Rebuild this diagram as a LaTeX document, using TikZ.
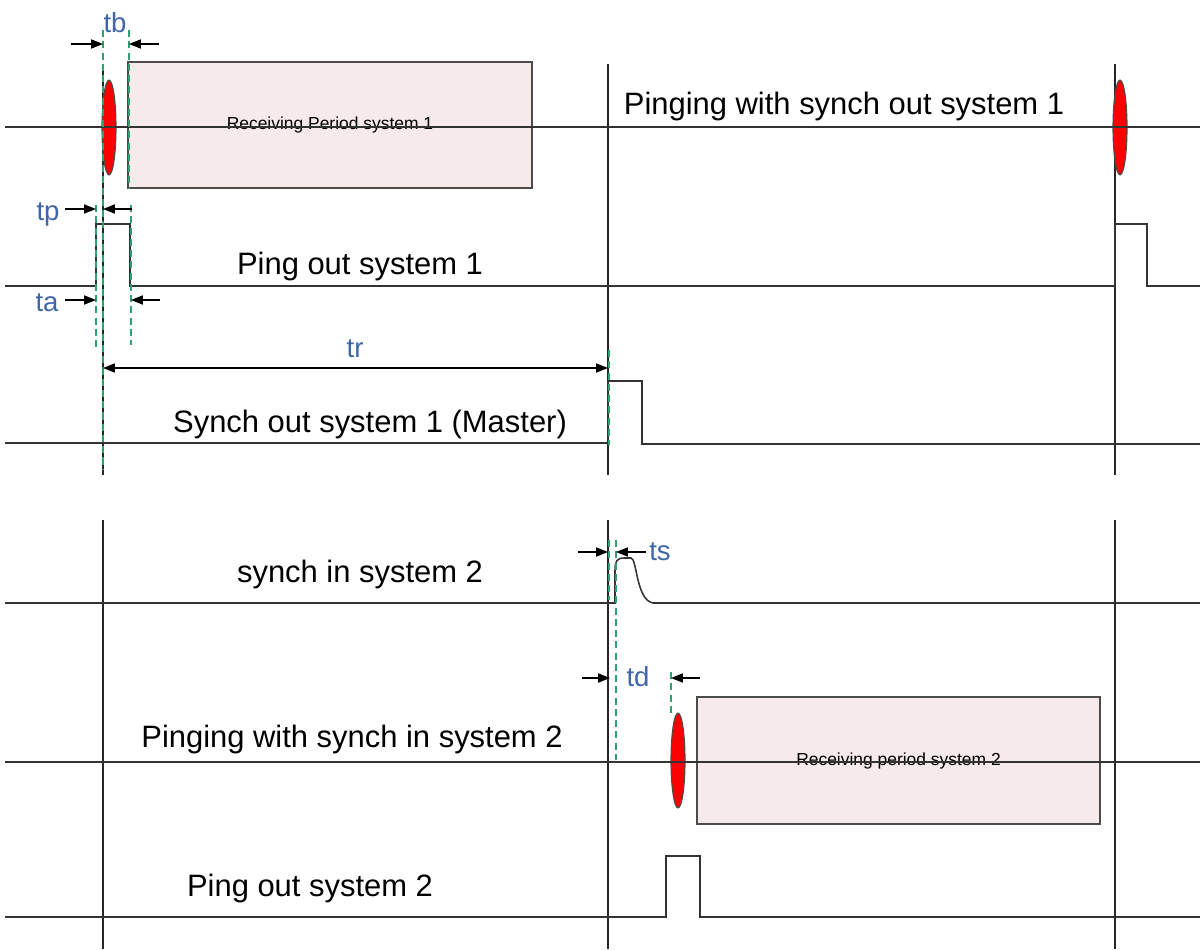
\documentclass[tikz,border=0pt]{standalone}
\usepackage{fontspec}
\setmainfont{Liberation Sans}
\usetikzlibrary{arrows.meta, shapes.geometric}

\definecolor{recfill}{HTML}{F6EAEA}
\definecolor{labblue}{HTML}{3F66A8}
\definecolor{markgreen}{HTML}{2FA070}

\tikzset{
  signal/.style={line width=1.1pt, black!80},
  tmark/.style={line width=1.1pt, black!85},
  guide/.style={markgreen, line width=0.9pt, dash pattern=on 5pt off 3pt},
  dim/.style={line width=1pt, -{Triangle[length=8.5pt, width=6.5pt]}},
  recbox/.style={draw=black!70, line width=1.1pt, fill=recfill, inner sep=0pt,
                 font=\fontsize{12.4}{14}\selectfont},
  pingdot/.style={ellipse, draw=black!70, fill=red, line width=0.8pt, inner sep=0pt,
                  minimum width=0.35cm, minimum height=2.37cm},
  sigtext/.style={anchor=base, font=\fontsize{22}{26}\selectfont},
  dimtext/.style={anchor=base, labblue, font=\fontsize{19.6}{22}\selectfont}
}

\begin{document}
\begin{tikzpicture}[x=0.025cm, y=-0.025cm]
    \useasboundingbox (0, 0) rectangle (1200, 949);

    % Time marks
    \foreach \x/\n in {103/a, 608/b, 1115/c} {
      \path (\x, 64) coordinate (top\n) (\x, 475) coordinate (mid\n)
            (\x, 520) coordinate (low\n) (\x, 949) coordinate (bot\n);
      \draw [tmark] (top\n) -- (mid\n);
      \draw [tmark] (low\n) -- (bot\n);
    }

    % Receiving periods
    \node (rec1) [recbox, minimum width=10.1cm, minimum height=3.15cm]
          at (330, 125) {Receiving Period system 1};
    \node (rec2) [recbox, minimum width=10.075cm, minimum height=3.175cm]
          at (898.5, 760.5) {Receiving period system 2};

    % Pings
    \node (ping1) [pingdot] at (109, 127.5) {};
    \node (ping2) [pingdot] at (1120, 127.5) {};
    \node (ping3) [pingdot] at (678, 760.5) {};

    % Pinging with synch out system 1
    \draw [signal] (5, 127) -- (1200, 127);
    \node (pingtxt1) [sigtext] at (844, 114) {Pinging with synch out system 1};

    % Ping out system 1
    \draw [signal] (5, 286) -- (96, 286) -- (96, 224) -- (130, 224) -- (130, 286)
          -- (1115, 286) -- (1115, 224) -- (1147, 224) -- (1147, 286) -- (1200, 286);
    \node (outtxt1) [sigtext] at (360, 274) {Ping out system 1};

    % Synch out system 1
    \draw [signal] (5, 443) -- (608, 443) -- (608, 381) -- (642, 381) -- (642, 444)
          -- (1200, 444);
    \node (synctxt1) [sigtext] at (370, 432) {Synch out system 1 (Master)};

    % Synch in system 2
    \draw [signal] (5, 603) -- (615, 603) -- (615, 570)
          .. controls (615, 561) and (617, 558) .. (624, 558) -- (631, 558)
          .. controls (637, 558) and (636, 600) .. (653, 603) -- (1200, 603);
    \node (synctxt2) [sigtext] at (360, 582) {synch in system 2};

    % Pinging with synch in system 2
    \draw [signal] (5, 762) -- (1200, 762);
    \node (pingtxt2) [sigtext] at (352, 747) {Pinging with synch in system 2};

    % Ping out system 2
    \draw [signal] (5, 917) -- (666, 917) -- (666, 856) -- (700, 856) -- (700, 917)
          -- (1200, 917);
    \node (outtxt2) [sigtext] at (310, 896) {Ping out system 2};

    % Guide lines
    \draw [guide] (103, 30) -- (103, 470);
    \draw [guide] (129, 30) -- (129, 188);
    \draw [guide] (96, 205) -- (96, 350);
    \draw [guide] (131, 205) -- (131, 345);
    \draw [guide] (609, 350) -- (609, 445);
    \draw [guide] (609, 540) -- (609, 600);
    \draw [guide] (616, 540) -- (616, 760);
    \draw [guide] (671, 672) -- (671, 713);

    % Dimensions
    \foreach \n/\xl/\xa/\xb/\xr/\y in {tb/71/103/129/159/44, tp/65/96/103/132/209,
                                       ta/65/96/131/160/300, ts/578/608/616/646/552,
                                       td/582/610/671/700/678} {
      \path (\xl, \y) coordinate (\n l) (\xa, \y) coordinate (\n a)
            (\xb, \y) coordinate (\n b) (\xr, \y) coordinate (\n r);
      \draw [dim] (\n l) -- (\n a);
      \draw [dim] (\n r) -- (\n b);
    }
    \path (103, 368) coordinate (trl) (608, 368) coordinate (trr);
    \draw [dim, {Triangle[length=8.5pt, width=6.5pt]}-{Triangle[length=8.5pt, width=6.5pt]}]
          (trl) -- (trr);

    \node (tbtxt) [dimtext] at (115, 32) {tb};
    \node (tptxt) [dimtext] at (48, 220) {tp};
    \node (tatxt) [dimtext] at (47, 311) {ta};
    \node (trtxt) [dimtext] at (355, 357) {tr};
    \node (tstxt) [dimtext] at (660, 560) {ts};
    \node (tdtxt) [dimtext] at (638, 686) {td};
\end{tikzpicture}
\end{document}
